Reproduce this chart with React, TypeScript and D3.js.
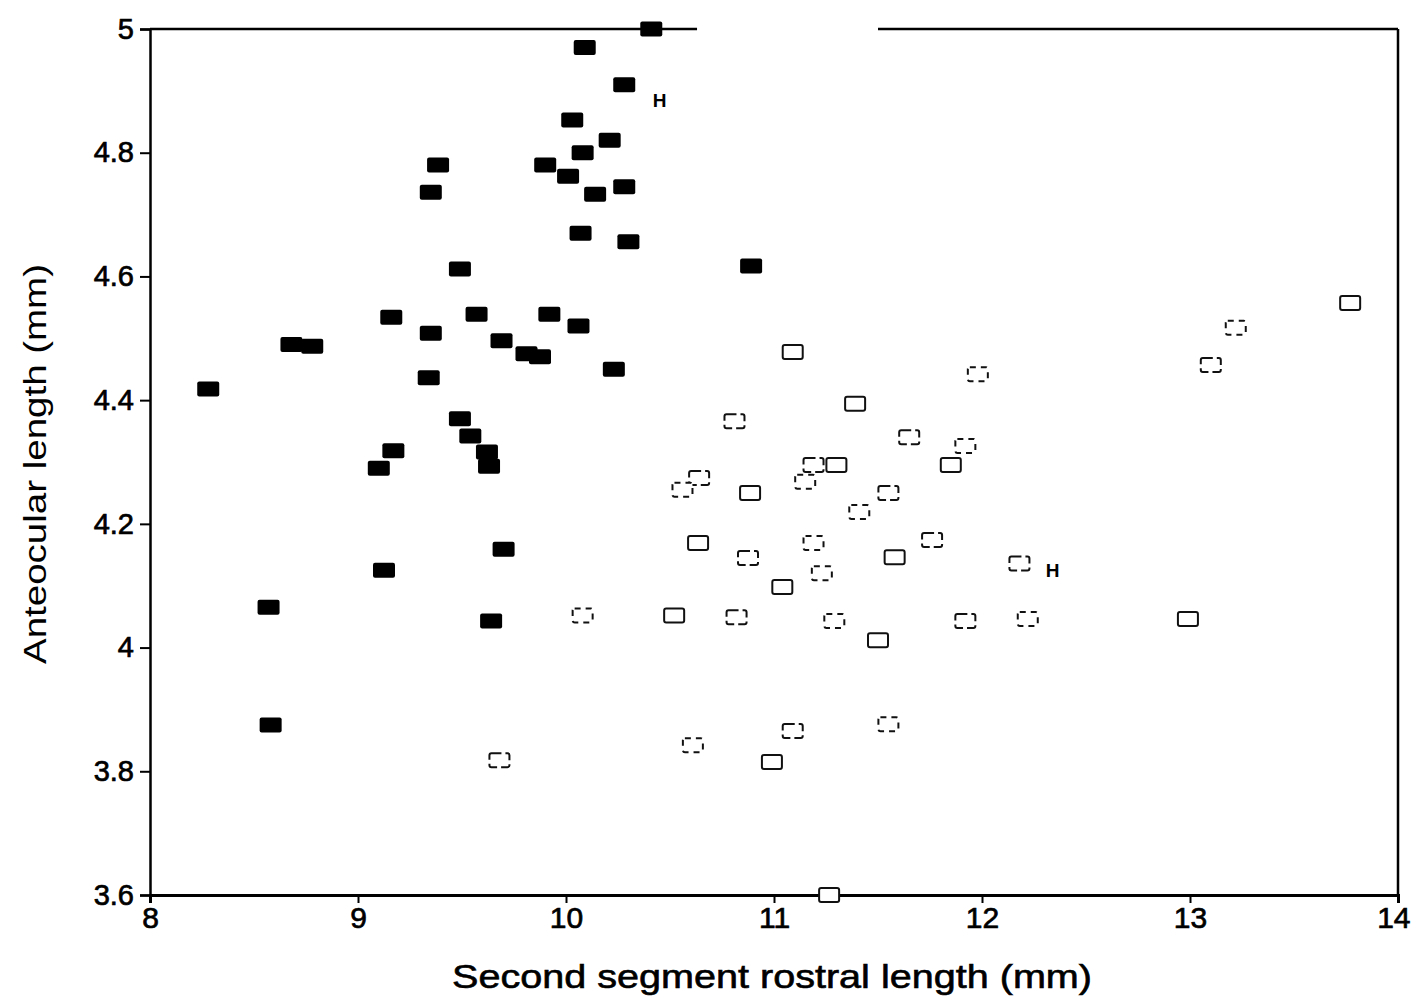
import React, { useEffect, useRef } from "react";
import * as d3 from "d3";

// filled squares: [second segment rostral length, anteocular length]
const filledX = [10.41, 10.09, 10.28, 10.03, 10.21, 10.08, 9.385, 9.9, 10.01, 10.14, 10.28, 9.35, 10.07, 10.3, 9.49, 10.89,
  9.16, 9.57, 9.92, 10.06, 8.68, 8.78, 9.35, 9.69, 9.81, 9.875, 10.23, 8.28, 9.34, 9.49, 9.54, 9.62, 9.63, 9.17, 9.1,
  9.7, 9.125, 8.57, 9.64, 8.58];
const filledY = [5.0, 4.97, 4.91, 4.853, 4.82, 4.8, 4.78, 4.78, 4.762, 4.733, 4.745, 4.736, 4.67, 4.656, 4.612, 4.617,
  4.534, 4.539, 4.539, 4.52, 4.49, 4.487, 4.508, 4.496, 4.475, 4.47, 4.45, 4.418, 4.436, 4.37, 4.342, 4.316, 4.293, 4.318, 4.29,
  4.159, 4.125, 4.065, 4.043, 3.875];

// open squares
const openX = [11.09, 10.81, 11.98, 11.39, 11.65, 11.92, 11.85, 10.64, 10.56, 10.885, 11.19, 11.15, 11.3, 11.55, 11.41,
  10.635, 10.875, 11.19, 11.58, 11.76, 11.23, 11.04, 12.18, 10.08, 10.52, 10.82, 11.29, 11.5, 11.92, 12.22, 12.99,
  9.68, 10.61, 10.99, 11.09, 11.55, 11.265, 13.1, 13.22, 13.77];
const openY = [4.478, 4.366, 4.442, 4.394, 4.34, 4.326, 4.295, 4.274, 4.255, 4.25, 4.295, 4.268, 4.295, 4.25, 4.219,
  4.169, 4.145, 4.169, 4.146, 4.174, 4.12, 4.098, 4.136, 4.052, 4.052, 4.049, 4.043, 4.012, 4.043, 4.046, 4.046,
  3.818, 3.842, 3.815, 3.865, 3.876, 3.6, 4.457, 4.517, 4.557];

// "H" marks beside two points
const markX = [10.45, 12.34];
const markY = [4.885, 4.125];

const xTicks = [8, 9, 10, 11, 12, 13, 14];
const yTicks = [3.6, 3.8, 4, 4.2, 4.4, 4.6, 4.8, 5];

const W = 1412;
const H = 1008;

export default function App() {
  const svgRef = useRef<SVGSVGElement>(null);

  useEffect(() => {
    const svg = d3.select(svgRef.current);
    svg.selectAll("*").remove();

    const margin = { left: 150, right: 14, top: 29, bottom: 113 };
    const x = d3.scaleLinear().domain([8, 14]).range([margin.left, W - margin.right]);
    const y = d3.scaleLinear().domain([3.6, 5]).range([H - margin.bottom, margin.top]);
    const font = "'Liberation Sans', Arial, sans-serif";

    // frame: top line has a faded stretch in the scan
    const gapA = x(10.63), gapB = x(11.5);
    svg.append("line")
      .attr("x1", x(8)).attr("x2", x(14)).attr("y1", y(5)).attr("y2", y(5))
      .attr("stroke", "#000").attr("stroke-width", 2.5)
      .attr("stroke-dasharray", `${gapA - x(8)} ${gapB - gapA} ${x(14) - gapB}`);
    svg.append("line")
      .attr("x1", x(14)).attr("x2", x(14)).attr("y1", y(5)).attr("y2", y(3.6))
      .attr("stroke", "#000").attr("stroke-width", 2.5);

    // left axis
    const yAxis = svg.append("g")
      .attr("transform", `translate(${x(8)},0)`)
      .call(d3.axisLeft(y).tickValues(yTicks).tickSize(10).tickPadding(6).tickFormat(d => String(+d)));
    yAxis.select(".domain").attr("stroke-width", 2.5);
    yAxis.selectAll(".tick line").attr("stroke-width", 2);
    yAxis.selectAll("text")
      .style("font-family", font).style("font-size", "29px").attr("fill", "#000")
      .attr("stroke", "#000").attr("stroke-width", 0.7);

    // bottom axis
    const xAxis = svg.append("g")
      .attr("transform", `translate(0,${y(3.6)})`)
      .call(d3.axisBottom(x).tickValues(xTicks).tickSize(8).tickPadding(4).tickFormat(d3.format("d")));
    xAxis.select(".domain").attr("stroke-width", 3);
    xAxis.selectAll(".tick line").attr("stroke-width", 2);
    xAxis.selectAll("text")
      .style("font-family", font).style("font-size", "30px").attr("fill", "#000")
      .attr("stroke", "#000").attr("stroke-width", 0.7);
    // last label sits at the page edge: keep it inside
    xAxis.selectAll<SVGTextElement, number>("text")
      .filter(d => d === 14)
      .attr("text-anchor", "end").attr("dx", 12);

    // titles
    svg.append("text")
      .attr("x", (x(8) + x(14)) / 2 - 2).attr("y", 988)
      .attr("text-anchor", "middle")
      .attr("textLength", 640).attr("lengthAdjust", "spacingAndGlyphs")
      .style("font-family", font).style("font-size", "33px")
      .attr("stroke", "#000").attr("stroke-width", 0.6)
      .text("Second segment rostral length (mm)");
    svg.append("text")
      .attr("transform", `translate(46,${y(4.3) + 2}) rotate(-90)`)
      .attr("text-anchor", "middle")
      .attr("textLength", 400).attr("lengthAdjust", "spacingAndGlyphs")
      .style("font-family", font).style("font-size", "32px")
      .text("Anteocular length (mm)");

    const fw = 22, fh = 15, ow = 20, oh = 14;

    // open squares
    svg.append("g").selectAll("rect")
      .data(d3.zip(openX, openY))
      .enter().append("rect")
      .attr("x", d => x(d[0]) - ow / 2).attr("y", d => y(d[1]) - oh / 2)
      .attr("width", ow).attr("height", oh).attr("rx", 2)
      .attr("fill", "#fff").attr("stroke", "#111").attr("stroke-width", 2)
      .attr("stroke-dasharray", (d, i) => (i % 3 === 0 ? null : i % 3 === 1 ? "10 4" : "6 5"));

    // filled squares
    svg.append("g").selectAll("rect")
      .data(d3.zip(filledX, filledY))
      .enter().append("rect")
      .attr("x", d => x(d[0]) - fw / 2).attr("y", d => y(d[1]) - fh / 2)
      .attr("width", fw).attr("height", fh).attr("rx", 2)
      .attr("fill", "#000");

    // H marks
    svg.append("g").selectAll("text")
      .data(d3.zip(markX, markY))
      .enter().append("text")
      .attr("x", d => x(d[0])).attr("y", d => y(d[1]) + 7)
      .attr("text-anchor", "middle")
      .style("font-family", font).style("font-size", "19px").style("font-weight", "bold")
      .text("H");
  }, []);

  return (
    <svg ref={svgRef} width={W} height={H}
      style={{ position: "absolute", left: 0, top: 0, background: "#fff" }} />
  );
}
